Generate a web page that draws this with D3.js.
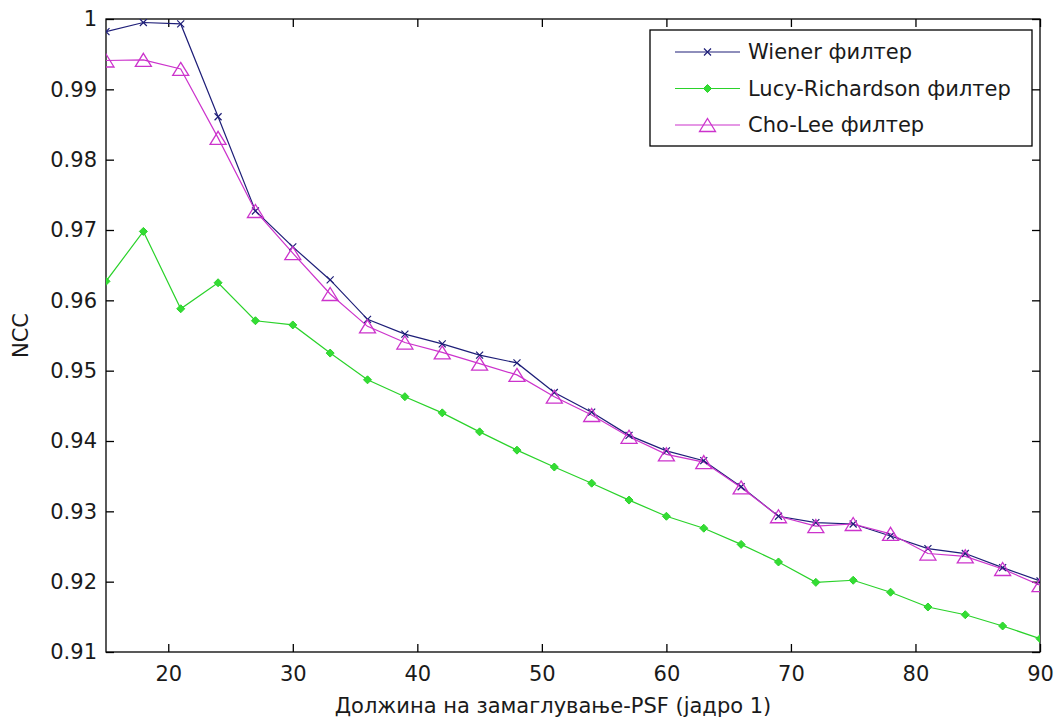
<!DOCTYPE html>
<html>
<head>
<meta charset="utf-8">
<script src="https://cdn.jsdelivr.net/npm/d3@7"></script>
<style>
  html, body { margin: 0; padding: 0; background: #ffffff; }
  svg text { font-family: "DejaVu Sans", sans-serif; fill: #1a1a1a; }
</style>
</head>
<body>
<svg id="chart" width="1054" height="726"></svg>
<script>
// ---- data ----
const psfLength = [15,18,21,24,27,30,33,36,39,42,45,48,51,54,57,60,63,66,69,72,75,78,81,84,87,90];
const wiener = [0.9982,0.9995,0.9993,0.9861,0.9727,0.9676,0.9629,0.9573,0.9552,0.9538,0.9522,0.9511,0.9469,0.9441,0.9408,0.9386,0.9372,0.9335,0.9293,0.9284,0.9282,0.9265,0.9247,0.9240,0.9220,0.9201];
const lucy = [0.9627,0.9698,0.9588,0.9625,0.9571,0.9565,0.9525,0.9487,0.9463,0.9440,0.9413,0.9387,0.9363,0.9340,0.9316,0.9293,0.9276,0.9253,0.9228,0.9199,0.9202,0.9185,0.9164,0.9153,0.9137,0.9119];
const choLee = [0.9941,0.9942,0.9929,0.9831,0.9727,0.9667,0.9609,0.9563,0.9540,0.9526,0.9510,0.9494,0.9463,0.9437,0.9406,0.9381,0.9370,0.9334,0.9293,0.9279,0.9282,0.9268,0.9240,0.9236,0.9218,0.9195];
const seriesNames = ["Wiener филтер", "Lucy-Richardson филтер", "Cho-Lee филтер"];
const xTicks = [20,30,40,50,60,70,80,90];
const yTicks = [0.91,0.92,0.93,0.94,0.95,0.96,0.97,0.98,0.99,1];
const xLabel = "Должина на замаглување-PSF (јадро 1)";
const yLabel = "NCC";

// ---- layout ----
const L = 106, R = 1040, T = 19, B = 652;
const svg = d3.select("#chart");
const x = d3.scaleLinear().domain([15, 90]).range([L, R]);
const y = d3.scaleLinear().domain([0.91, 1]).range([B, T]);

const colors = ["#1e1e78", "#2ad22a", "#cc33cc"];
const fontSize = 21;

// clip
svg.append("defs").append("clipPath").attr("id", "clip")
  .append("rect").attr("x", L).attr("y", T).attr("width", R - L).attr("height", B - T);

// axes
const tickLen = 8;
const xAxisB = d3.axisBottom(x).tickValues(xTicks).tickSizeInner(-tickLen).tickSizeOuter(0).tickPadding(14).tickFormat(d3.format("d"));
const xAxisT = d3.axisTop(x).tickValues(xTicks).tickSizeInner(-tickLen).tickSizeOuter(0).tickFormat("");
const yAxisL = d3.axisLeft(y).tickValues(yTicks).tickSizeInner(-tickLen).tickSizeOuter(0).tickPadding(9).tickFormat(d => d === 1 ? "1" : d3.format(".2f")(d));
const yAxisR = d3.axisRight(y).tickValues(yTicks).tickSizeInner(-tickLen).tickSizeOuter(0).tickFormat("");

function styleAxis(g) {
  g.select(".domain").remove();
  g.selectAll(".tick line").attr("stroke", "#000").attr("stroke-width", 1.3);
  g.selectAll("text").attr("font-size", fontSize).attr("fill", "#1a1a1a").attr("font-family", "DejaVu Sans");
}
svg.append("g").attr("transform", `translate(0,${B})`).call(xAxisB).call(styleAxis);
svg.append("g").attr("transform", `translate(0,${T})`).call(xAxisT).call(styleAxis);
svg.append("g").attr("transform", `translate(${L},0)`).call(yAxisL).call(styleAxis);
svg.append("g").attr("transform", `translate(${R},0)`).call(yAxisR).call(styleAxis);

// frame
svg.append("rect").attr("x", L).attr("y", T).attr("width", R - L).attr("height", B - T)
  .attr("fill", "none").attr("stroke", "#000").attr("stroke-width", 1.3);

// series
const allSeries = [wiener, lucy, choLee];
const line = d3.line().x((d, i) => x(psfLength[i])).y(d => y(d));
const plot = svg.append("g").attr("clip-path", "url(#clip)");

function drawMarker(g, type, cx, cy, color) {
  if (type === 0) {
    const s = 3.5;
    g.append("path").attr("d", `M${cx - s},${cy - s}L${cx + s},${cy + s}M${cx - s},${cy + s}L${cx + s},${cy - s}`)
      .attr("stroke", color).attr("stroke-width", 1.2).attr("fill", "none");
  } else if (type === 1) {
    const s = 4;
    g.append("path").attr("d", `M${cx},${cy - s}L${cx + s},${cy}L${cx},${cy + s}L${cx - s},${cy}Z`)
      .attr("fill", "#33dd33").attr("stroke", color).attr("stroke-width", 1);
  } else {
    const w = 8, h = 6.5;
    g.append("path").attr("d", `M${cx},${cy - h}L${cx + w},${cy + h}L${cx - w},${cy + h}Z`)
      .attr("fill", "none").attr("stroke", color).attr("stroke-width", 1.3);
  }
}

allSeries.forEach((vals, k) => {
  plot.append("path").datum(vals).attr("d", line)
    .attr("fill", "none").attr("stroke", colors[k]).attr("stroke-width", 1.2);
});
allSeries.forEach((vals, k) => {
  const g = plot.append("g");
  vals.forEach((v, i) => drawMarker(g, k, x(psfLength[i]), y(v), colors[k]));
});

// legend
const lg = svg.append("g");
const lx = 650, ly = 30, lw = 382, lh = 116;
lg.append("rect").attr("x", lx).attr("y", ly).attr("width", lw).attr("height", lh)
  .attr("fill", "#fff").attr("stroke", "#000").attr("stroke-width", 1.3);
const rowY = [52, 88.5, 125];
seriesNames.forEach((name, k) => {
  lg.append("line").attr("x1", 675).attr("x2", 740).attr("y1", rowY[k]).attr("y2", rowY[k])
    .attr("stroke", colors[k]).attr("stroke-width", 1.2);
  drawMarker(lg, k, 707.5, rowY[k], colors[k]);
  lg.append("text").attr("x", 748).attr("y", rowY[k]).attr("dy", "0.35em")
    .attr("font-size", fontSize).text(name);
});

// axis labels
svg.append("text").attr("x", 553).attr("y", 713).attr("text-anchor", "middle")
  .attr("font-size", fontSize).text(xLabel);
svg.append("text").attr("transform", `translate(28,${(T + B) / 2}) rotate(-90)`)
  .attr("text-anchor", "middle").attr("font-size", fontSize).text(yLabel);
</script>
</body>
</html>
